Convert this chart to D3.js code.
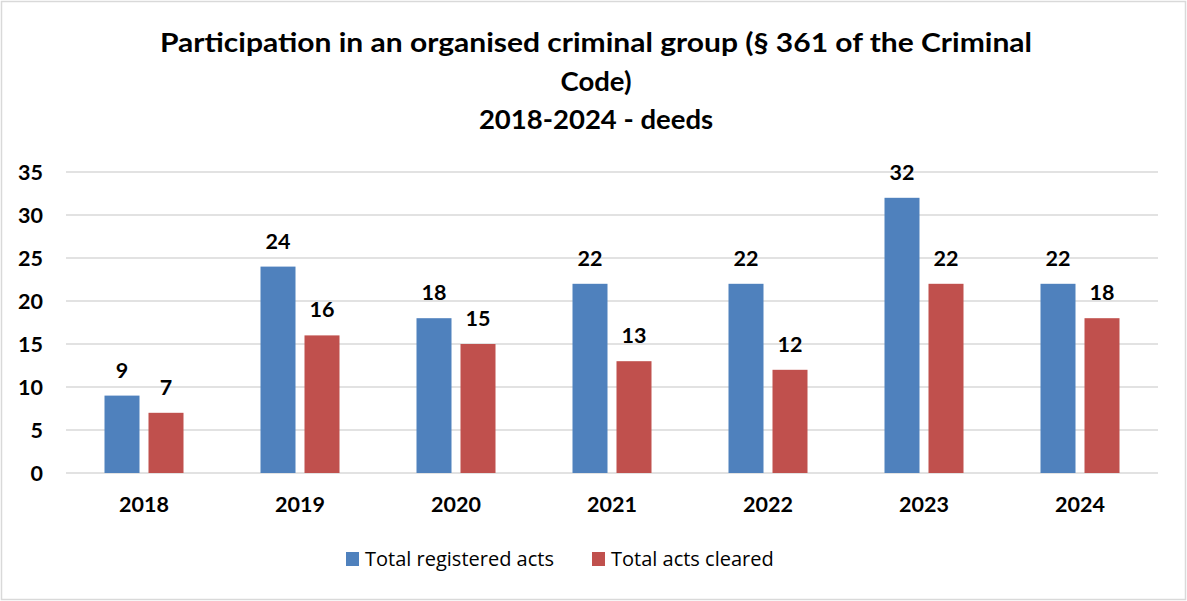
<!DOCTYPE html>
<html>
<head>
<meta charset="utf-8">
<script src="https://cdn.jsdelivr.net/npm/d3@7"></script>
<style>
  html, body { margin: 0; padding: 0; background: #fff; }
  svg { display: block; }
</style>
</head>
<body>
<svg id="chart" width="1187" height="601"></svg>
<script>
// Data
const years = ["2018", "2019", "2020", "2021", "2022", "2023", "2024"];
const registered = [9, 24, 18, 22, 22, 32, 22];
const cleared = [7, 16, 15, 13, 12, 22, 18];
const seriesNames = ["Total registered acts", "Total acts cleared"];
const seriesColors = ["#4f81bd", "#c0504d"];
const yTicks = [0, 5, 10, 15, 20, 25, 30, 35];
const titleLines = [
  "Participation in an organised criminal group (§ 361 of the Criminal",
  "Code)",
  "2018-2024 - deeds"
];

const W = 1187, H = 601;
const svg = d3.select("#chart");
const boldFont = "Lato, 'Open Sans', sans-serif";
const numSize = 21.5;

// Outer frame
svg.append("rect")
  .attr("x", 1.5).attr("y", 1.5)
  .attr("width", W - 3).attr("height", H - 3)
  .attr("fill", "#fff").attr("stroke", "#d9d9d9").attr("stroke-width", 1.5);

// Title
const titleBase = [52, 91, 129];
const titleG = svg.append("g");
titleLines.forEach((t, i) => {
  const el = titleG.append("text")
    .attr("x", 596).attr("y", titleBase[i])
    .attr("text-anchor", "middle")
    .attr("font-family", boldFont)
    .attr("font-weight", 700)
    .attr("font-size", 27.5)
    .attr("fill", "#000")
    .text(t);
  if (i === 0) el.attr("textLength", 872).attr("lengthAdjust", "spacingAndGlyphs");
});

// Scales
const plot = { left: 66, right: 1158, top: 172, bottom: 473 };
const x0 = d3.scaleBand().domain(years).range([plot.left, plot.right]).padding(0);
const groupW = 79;
const x1 = d3.scaleBand().domain([0, 1])
  .range([(x0.step() - groupW) / 2, (x0.step() + groupW) / 2])
  .paddingInner(9 / 44).paddingOuter(0);
const y = d3.scaleLinear().domain([0, 35]).range([plot.bottom, plot.top]);

// Gridlines
svg.append("g").selectAll("line").data(yTicks).join("line")
  .attr("x1", plot.left).attr("x2", plot.right)
  .attr("y1", d => y(d)).attr("y2", d => y(d))
  .attr("stroke", "#d9d9d9").attr("stroke-width", 1.5);

// Y axis labels
const yAxis = d3.axisLeft(y).tickValues(yTicks).tickSize(0).tickPadding(0);
const yg = svg.append("g").attr("transform", "translate(43,0)").call(yAxis);
yg.select(".domain").remove();
yg.selectAll("text")
  .attr("font-family", boldFont).attr("font-weight", 700)
  .attr("font-size", numSize).attr("fill", "#000").attr("dy", "0.35em");

// X axis labels
const xAxis = d3.axisBottom(x0).tickSize(0).tickPadding(0);
const xg = svg.append("g").attr("transform", "translate(0,496)").call(xAxis);
xg.select(".domain").remove();
xg.selectAll("text")
  .attr("font-family", boldFont).attr("font-weight", 700)
  .attr("font-size", numSize).attr("fill", "#000").attr("dy", "0.75em");

// Bars
const rows = years.map((yr, i) => ({ year: yr, values: [registered[i], cleared[i]] }));
const groups = svg.append("g").selectAll("g").data(rows).join("g")
  .attr("transform", d => `translate(${x0(d.year)},0)`);

groups.selectAll("rect").data(d => d.values.map((v, s) => ({ v, s }))).join("rect")
  .attr("x", d => x1(d.s)).attr("width", x1.bandwidth())
  .attr("y", d => y(d.v)).attr("height", d => y(0) - y(d.v))
  .attr("fill", d => seriesColors[d.s]);

groups.selectAll("text").data(d => d.values.map((v, s) => ({ v, s }))).join("text")
  .attr("x", d => x1(d.s) + x1.bandwidth() / 2)
  .attr("y", d => y(d.v) - 18)
  .attr("text-anchor", "middle")
  .attr("font-family", boldFont).attr("font-weight", 700)
  .attr("font-size", numSize).attr("fill", "#000")
  .text(d => d.v);

// Legend
const legendX = [346, 592];
const legend = svg.append("g");
seriesNames.forEach((name, i) => {
  legend.append("rect")
    .attr("x", legendX[i]).attr("y", 552)
    .attr("width", 13).attr("height", 14)
    .attr("fill", seriesColors[i]);
  legend.append("text")
    .attr("x", legendX[i] + 19).attr("y", 566)
    .attr("font-family", "'Open Sans', sans-serif")
    .attr("font-size", 20).attr("fill", "#000")
    .text(name);
});
</script>
</body>
</html>
